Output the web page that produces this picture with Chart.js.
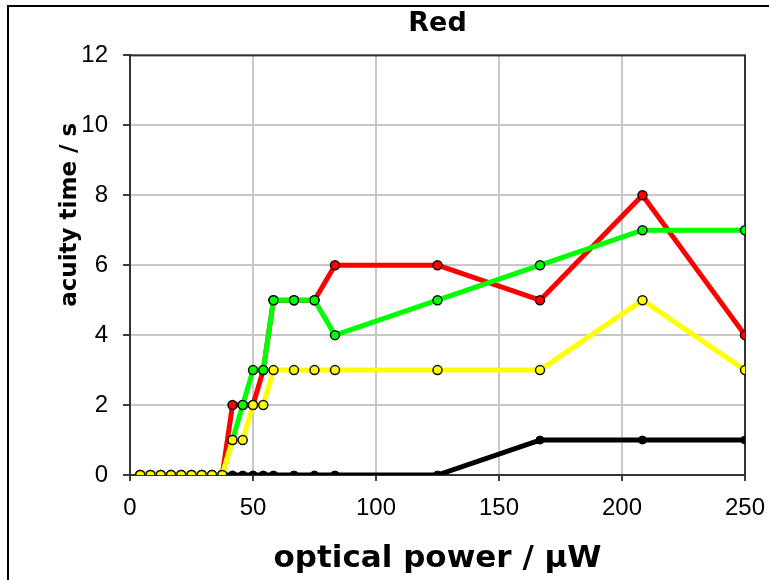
<!DOCTYPE html>
<html>
<head>
<meta charset="utf-8">
<script src="https://cdn.jsdelivr.net/npm/chart.js@4/dist/chart.umd.min.js"></script>
<style>
  html, body { margin: 0; padding: 0; background: #fff; }
  #wrap { position: relative; width: 769px; height: 580px; }
  #frame { position: absolute; left: 7px; top: 5px; width: 800px; height: 600px;
           border-left: 2px solid #000; border-top: 2px solid #000; pointer-events: none; }
</style>
</head>
<body>
<div id="wrap">
  <canvas id="LineChart" width="769" height="580"></canvas>
  <div id="frame"></div>
</div>
<script>
// optical power steps (µW)
const power = [4.17, 8.33, 12.5, 16.67, 20.83, 25, 29.17, 33.33, 37.5, 41.67, 45.83, 50, 54.17, 58.33, 66.67, 75, 83.33, 125, 166.67, 208.33, 250];
// acuity time (s) per series
const redVals    = [0, 0, 0, 0, 0, 0, 0, 0, 0, 2, 2, 2, 3, 5, 5, 5, 6, 6, 5, 8, 4];
const greenVals  = [0, 0, 0, 0, 0, 0, 0, 0, 0, 1, 2, 3, 3, 5, 5, 5, 4, 5, 6, 7, 7];
const yellowVals = [0, 0, 0, 0, 0, 0, 0, 0, 0, 1, 1, 2, 2, 3, 3, 3, 3, 3, 3, 5, 3];
const blackVals  = [0, 0, 0, 0, 0, 0, 0, 0, 0, 0, 0, 0, 0, 0, 0, 0, 0, 0, 1, 1, 1];
const xTicks = [0, 50, 100, 150, 200, 250];
const yTicks = [0, 2, 4, 6, 8, 10, 12];

const pts = vals => vals.map((v, i) => ({x: power[i], y: v}));

// plot frame drawn under the data
const frameBox = {
    id: 'frameBox',
    beforeDatasetsDraw(chart) {
        const a = chart.chartArea, c = chart.ctx;
        c.save();
        c.strokeStyle = '#333';
        c.lineWidth = 2;
        c.strokeRect(a.left, a.top, a.right - a.left, a.bottom - a.top);
        c.restore();
    }
};

// y axis title, sits a bit above the middle like the original
const yTitle = {
    id: 'yTitle',
    afterDraw(chart) {
        const a = chart.chartArea, c = chart.ctx;
        c.save();
        c.translate(70, a.top + (a.bottom - a.top) * 0.38);
        c.rotate(-Math.PI / 2);
        c.font = 'bold 23px "DejaVu Sans"';
        c.fillStyle = '#000';
        c.textAlign = 'center';
        c.textBaseline = 'middle';
        c.fillText('acuity time / s', 0, 0);
        c.restore();
    }
};

const ctx = document.getElementById('LineChart').getContext('2d');
const lineChart = new Chart(ctx, {
    type: 'line',
    data: {
        datasets: [{
            label: 'black',
            data: pts(blackVals),
            borderColor: '#000',
            borderWidth: 5,
            pointRadius: 4,
            pointBackgroundColor: '#000',
            pointBorderColor: '#000',
            pointBorderWidth: 1,
            order: 4
        }, {
            label: 'red',
            data: pts(redVals),
            borderColor: '#ff0000',
            borderWidth: 5,
            pointRadius: 4.5,
            pointBackgroundColor: '#ff0000',
            pointBorderColor: '#111',
            pointBorderWidth: 1.5,
            order: 3
        }, {
            label: 'green',
            data: pts(greenVals),
            borderColor: '#00ff00',
            borderWidth: 5,
            pointRadius: 4.5,
            pointBackgroundColor: '#00ff00',
            pointBorderColor: '#111',
            pointBorderWidth: 1.5,
            order: 2
        }, {
            label: 'yellow',
            data: pts(yellowVals),
            borderColor: '#ffff00',
            borderWidth: 5,
            pointRadius: 4.5,
            pointBackgroundColor: '#ffff00',
            pointBorderColor: '#111',
            pointBorderWidth: 1.5,
            order: 1
        }]
    },
    options: {
        responsive: false,
        animation: false,
        devicePixelRatio: 1,
        layout: { padding: { left: 0, right: 24, top: 0, bottom: 0 } },
        elements: { line: { tension: 0, borderCapStyle: 'round', borderJoinStyle: 'round' } },
        plugins: {
            legend: { display: false },
            tooltip: { enabled: false },
            title: {
                display: true,
                fullSize: false,
                text: 'Red',
                color: '#000',
                font: { family: 'DejaVu Sans', weight: 'bold', size: 27 },
                padding: { top: 8, bottom: 15 }
            }
        },
        scales: {
            x: {
                type: 'linear',
                min: 0,
                max: 250,
                afterBuildTicks: s => { s.ticks = xTicks.map(v => ({value: v})); },
                afterFit: s => { s.height = 105; s.paddingLeft = 0; s.paddingRight = 0; },
                ticks: {
                    color: '#000',
                    font: { family: 'Liberation Sans', size: 24 },
                    padding: 13,
                    maxRotation: 0
                },
                grid: { color: '#c8c8c8', lineWidth: 2, tickColor: '#000', tickLength: 6, tickWidth: 1.5 },
                border: { color: '#000', width: 2 },
                title: {
                    display: true,
                    text: 'optical power / µW',
                    color: '#000',
                    font: { family: 'DejaVu Sans', weight: 'bold', size: 31 },
                    padding: { top: 0, bottom: 2 }
                }
            },
            y: {
                min: 0,
                max: 12,
                afterBuildTicks: s => { s.ticks = yTicks.map(v => ({value: v})); },
                afterFit: s => { s.width = 130; },
                ticks: {
                    color: '#000',
                    font: { family: 'Liberation Sans', size: 24 },
                    padding: 15
                },
                grid: { color: '#c8c8c8', lineWidth: 2, tickColor: '#000', tickLength: 7, tickWidth: 1.5 },
                border: { color: '#000', width: 2 }
            }
        }
    },
    plugins: [frameBox, yTitle]
});
</script>
</body>
</html>
